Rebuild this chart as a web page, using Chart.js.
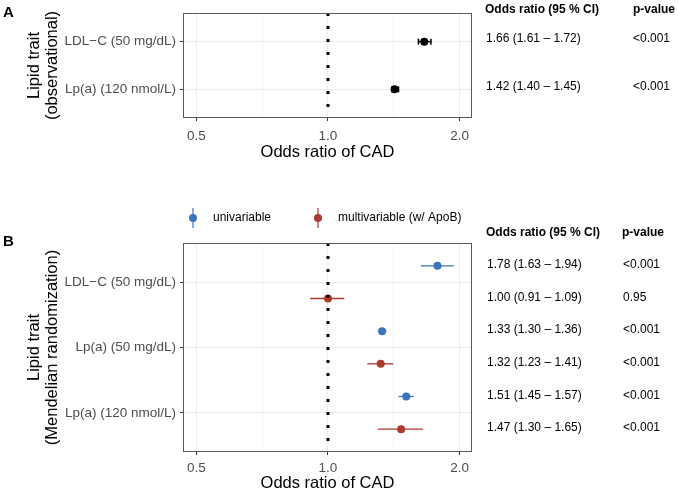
<!DOCTYPE html>
<html>
<head>
<meta charset="utf-8">
<script src="https://cdn.jsdelivr.net/npm/chart.js@4.4.1/dist/chart.umd.min.js"></script>
<style>
    html, body { margin: 0; padding: 0; background: #fff; }
    #wrap { position: relative; width: 678px; height: 493px; }
    canvas { position: absolute; left: 0; }
    #panelA { top: 0; }
    #panelB { top: 180px; }
</style>
</head>
<body>
<div id="wrap">
    <canvas id="panelA" width="678" height="180"></canvas>
    <canvas id="panelB" width="678" height="313"></canvas>
</div>
<script>
// forest plots - A: observational, B: Mendelian randomization

const xBreaks = [0.5, 1.0, 2.0];
const xMinorBreaks = [0.707, 1.414];
const xLimits = [0.466, 2.135];

// panel A
const obsTraits = ['LDL−C (50 mg/dL)', 'Lp(a) (120 nmol/L)'];
const obsOR = [1.66, 1.42];
const obsLower = [1.61, 1.40];
const obsUpper = [1.72, 1.45];
const obsP = ['<0.001', '<0.001'];

// panel B
const mrTraits = ['LDL−C (50 mg/dL)', 'Lp(a) (50 mg/dL)', 'Lp(a) (120 nmol/L)'];
const seriesNames = ['univariable', 'multivariable (w/ ApoB)'];
const uniOR = [1.78, 1.33, 1.51];
const uniLower = [1.63, 1.30, 1.45];
const uniUpper = [1.94, 1.36, 1.57];
const uniP = ['<0.001', '<0.001', '<0.001'];
const multiOR = [1.00, 1.32, 1.47];
const multiLower = [0.91, 1.23, 1.30];
const multiUpper = [1.09, 1.41, 1.65];
const multiP = ['0.95', '<0.001', '<0.001'];

const FONT = "'Liberation Sans', Arial, Helvetica, sans-serif";
const BLUE = '#3b74bd';
const RED = '#ae3a2d';
const DODGE = 0.25;

const fmt = v => v.toFixed(2);
const ciText = (or, lo, hi) => fmt(or) + ' (' + fmt(lo) + ' – ' + fmt(hi) + ')';

// border, panel letter, legend and the OR / p-value table
const panelDecor = {
    id: 'panelDecor',
    afterDraw(chart, args, opts) {
        const { ctx, chartArea: a, scales } = chart;
        ctx.save();
        ctx.strokeStyle = '#5a5a5a';
        ctx.lineWidth = 1;
        ctx.strokeRect(a.left + 0.5, a.top + 0.5, a.right - a.left - 1, a.bottom - a.top - 1);

        ctx.fillStyle = '#000';
        ctx.textBaseline = 'middle';
        ctx.textAlign = 'left';
        ctx.font = 'bold 15px ' + FONT;
        ctx.fillText(opts.letter, 3, opts.letterY);

        ctx.font = 'bold 12px ' + FONT;
        ctx.fillText('Odds ratio (95 % CI)', opts.estX - 1, opts.headY);
        ctx.fillText('p-value', opts.pHeadX, opts.headY);
        ctx.font = '12px ' + FONT;
        opts.rows.forEach(r => {
            const y = scales.y.getPixelForValue(r.y) + opts.rowShift;
            ctx.fillText(r.est, opts.estX, y);
            ctx.fillText(r.p, opts.pX, y);
        });

        (opts.legend || []).forEach(item => {
            ctx.strokeStyle = item.color;
            ctx.lineWidth = 1.2;
            ctx.beginPath();
            ctx.moveTo(item.x, opts.legendY - 10);
            ctx.lineTo(item.x, opts.legendY + 10);
            ctx.stroke();
            ctx.fillStyle = item.color;
            ctx.beginPath();
            ctx.arc(item.x, opts.legendY, 4, 0, Math.PI * 2);
            ctx.fill();
            ctx.fillStyle = '#000';
            ctx.fillText(item.label, item.x + 20, opts.legendY);
        });
        ctx.restore();
    }
};

function ciDatasets(lower, upper, rows, color, width, caps) {
    return lower.map((lo, i) => ({
        type: 'line',
        data: [{ x: lo, y: rows[i] }, { x: upper[i], y: rows[i] }],
        borderColor: color,
        borderWidth: width,
        pointStyle: caps ? 'line' : false,
        pointRadius: caps ? 3 : 0,
        pointRotation: 90,
        pointBorderColor: color,
        pointBorderWidth: width,
        order: 2
    }));
}

function pointDataset(or, rows, color) {
    return {
        type: 'scatter',
        data: or.map((v, i) => ({ x: v, y: rows[i] })),
        backgroundColor: color,
        borderWidth: 0,
        pointRadius: 4,
        order: 1
    };
}

function refLine(nRows) {
    return {
        type: 'line',
        data: [{ x: 1, y: 0.4 }, { x: 1, y: nRows + 0.6 }],
        borderColor: '#000',
        borderWidth: 3,
        borderDash: [3, 10],
        pointRadius: 0,
        order: 0
    };
}

function scalesFor(traits, yTitle, xHeight, xTitlePad, xTickPad) {
    const isMajor = c => c.tick && xBreaks.includes(c.tick.value);
    return {
        x: {
            type: 'logarithmic',
            min: xLimits[0],
            max: xLimits[1],
            afterBuildTicks: s => {
                s.ticks = xBreaks.concat(xMinorBreaks).sort((p, q) => p - q).map(v => ({ value: v }));
            },
            afterFit: s => { s.height = xHeight; },
            ticks: {
                autoSkip: false, maxRotation: 0, padding: xTickPad,
                color: '#4d4d4d', font: { family: FONT, size: 13.5 },
                callback: v => xBreaks.includes(v) ? v.toFixed(1) : ''
            },
            grid: {
                color: c => isMajor(c) ? '#ebebeb' : '#f3f3f3',
                tickLength: 3,
                tickColor: c => isMajor(c) ? '#333' : 'rgba(0,0,0,0)'
            },
            border: { display: false },
            title: {
                display: true, text: 'Odds ratio of CAD', color: '#000',
                font: { family: FONT, size: 16.5, lineHeight: 1.05 },
                padding: { top: 0, bottom: xTitlePad }
            }
        },
        y: {
            type: 'linear',
            reverse: true,
            min: 0.4,
            max: traits.length + 0.6,
            afterBuildTicks: s => { s.ticks = traits.map((t, i) => ({ value: i + 1 })); },
            afterFit: s => { s.width = 183; },
            ticks: {
                autoSkip: false, padding: 4,
                color: '#4d4d4d', font: { family: FONT, size: 13.5 },
                callback: v => traits[v - 1]
            },
            grid: { color: '#ebebeb', tickLength: 3, tickColor: '#333' },
            border: { display: false },
            title: {
                display: true, text: yTitle, color: '#000',
                font: { family: FONT, size: 16.5, lineHeight: 1.05 },
                padding: { top: 26, bottom: 0 }
            }
        }
    };
}

// panel A
const obsRows = obsTraits.map((t, i) => i + 1);
new Chart(document.getElementById('panelA'), {
    data: {
        datasets: [
            refLine(obsTraits.length),
            pointDataset(obsOR, obsRows, '#000'),
            ...ciDatasets(obsLower, obsUpper, obsRows, '#000', 1.5, true)
        ]
    },
    options: {
        responsive: false,
        animation: false,
        layout: { padding: { top: 13, right: 206, left: 0, bottom: 0 } },
        scales: scalesFor(obsTraits, ['Lipid trait', '(observational)'], 62, 19, 7),
        plugins: {
            legend: { display: false },
            tooltip: { enabled: false },
            panelDecor: {
                letter: 'A', letterY: 13,
                headY: 10, estX: 486, pX: 633, pHeadX: 633, rowShift: -2.5,
                rows: obsOR.map((v, i) => ({ y: obsRows[i], est: ciText(v, obsLower[i], obsUpper[i]), p: obsP[i] }))
            }
        }
    },
    plugins: [panelDecor]
});

// panel B
const uniRows = mrTraits.map((t, i) => i + 1 - DODGE);
const multiRows = mrTraits.map((t, i) => i + 1 + DODGE);
const mrTable = [];
mrTraits.forEach((t, i) => {
    mrTable.push({ y: uniRows[i], est: ciText(uniOR[i], uniLower[i], uniUpper[i]), p: uniP[i] });
    mrTable.push({ y: multiRows[i], est: ciText(multiOR[i], multiLower[i], multiUpper[i]), p: multiP[i] });
});

new Chart(document.getElementById('panelB'), {
    data: {
        datasets: [
            refLine(mrTraits.length),
            pointDataset(uniOR, uniRows, BLUE),
            pointDataset(multiOR, multiRows, RED),
            ...ciDatasets(uniLower, uniUpper, uniRows, BLUE, 1.3, false),
            ...ciDatasets(multiLower, multiUpper, multiRows, RED, 1.3, false)
        ]
    },
    options: {
        responsive: false,
        animation: false,
        layout: { padding: { top: 63, right: 206, left: 0, bottom: 0 } },
        scales: scalesFor(mrTraits, ['Lipid trait', '(Mendelian randomization)'], 41, 1, 5),
        plugins: {
            legend: { display: false },
            tooltip: { enabled: false },
            panelDecor: {
                letter: 'B', letterY: 62,
                headY: 53, estX: 487, pX: 623, pHeadX: 622, rowShift: -1,
                rows: mrTable,
                legendY: 38,
                legend: [
                    { label: seriesNames[0], color: BLUE, x: 193 },
                    { label: seriesNames[1], color: RED, x: 318 }
                ]
            }
        }
    },
    plugins: [panelDecor]
});
</script>
</body>
</html>
